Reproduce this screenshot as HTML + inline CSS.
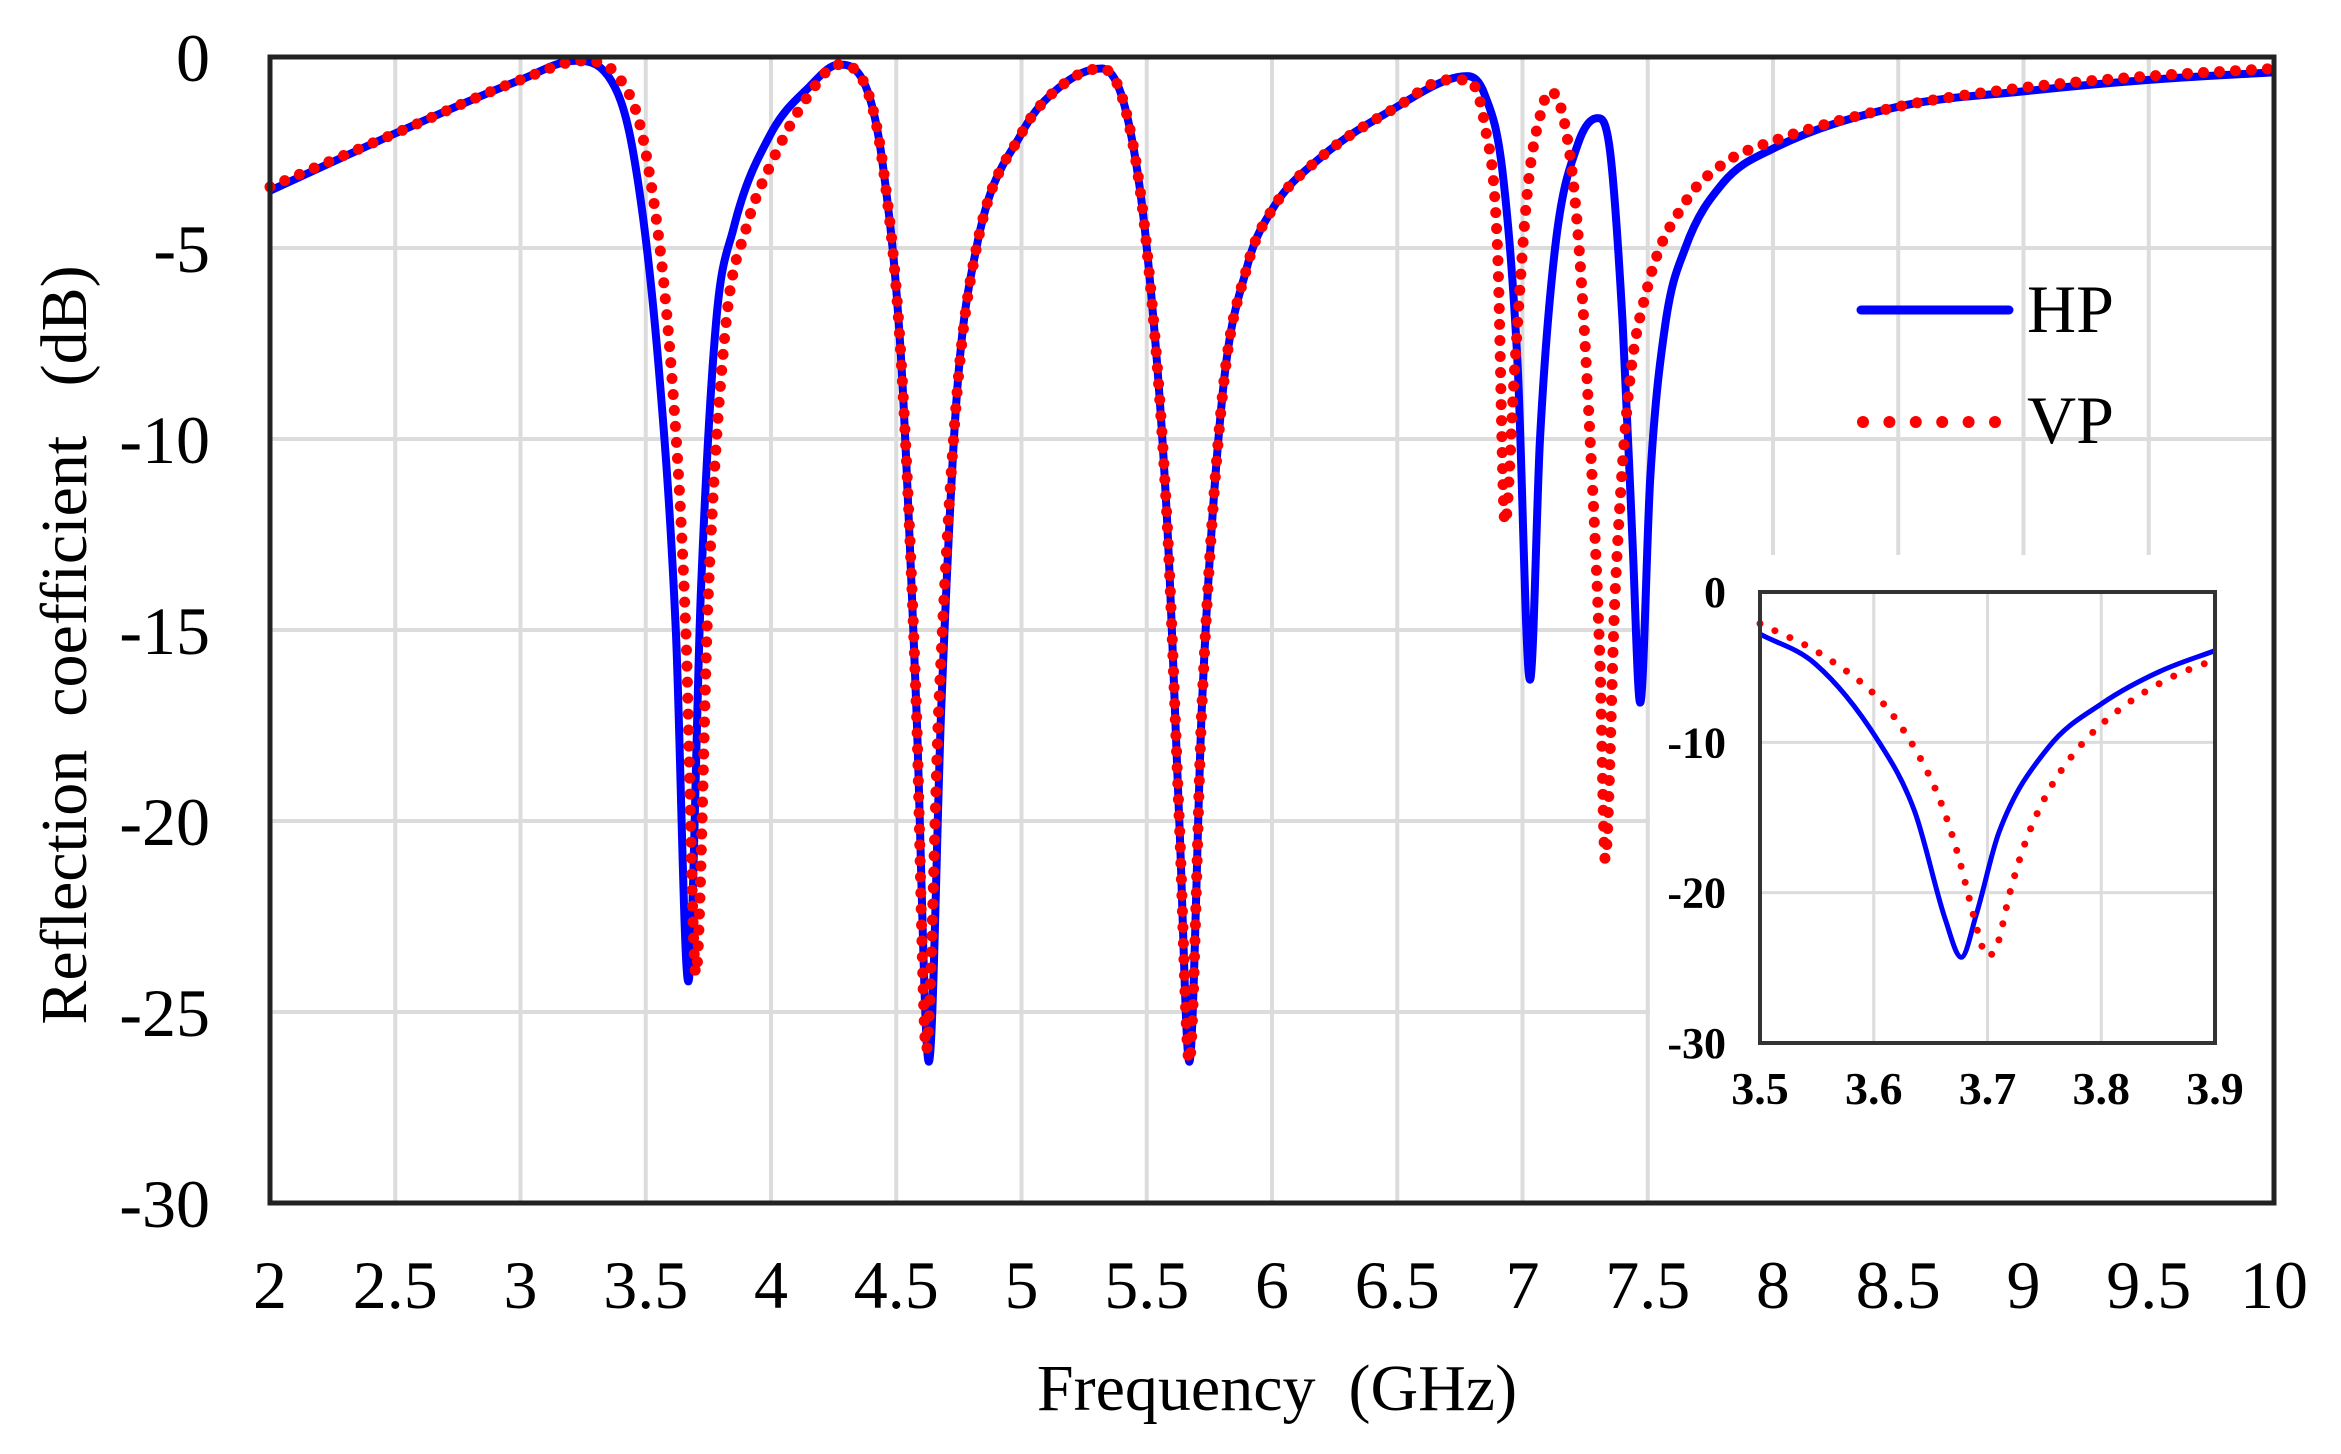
<!DOCTYPE html>
<html><head><meta charset="utf-8"><style>
html,body{margin:0;padding:0;background:#fff;}
svg{display:block;font-family:"Liberation Serif",serif;}
</style></head><body>
<svg id="chart" width="2341" height="1454" viewBox="0 0 2341 1454">
<g id="grid"></g>
<rect id="inset-bg" x="1650" y="555" width="622" height="646" fill="#fff"/>
<g id="series"></g>
<g id="axes"></g>
<g id="inset"></g>
<text x="1277" y="1410" font-size="66" text-anchor="middle" xml:space="preserve">Frequency  (GHz)</text>
<text transform="translate(86,645) rotate(-90)" font-size="66" text-anchor="middle" xml:space="preserve">Reflection  coefficient   (dB)</text>
<g>
<line x1="1861" y1="310" x2="2009" y2="310" stroke="#0000ff" stroke-width="9" stroke-linecap="round"/>
<text x="2027" y="332" font-size="68">HP</text>
<line x1="1863" y1="422" x2="1995" y2="422" stroke="#ff0000" stroke-width="12" stroke-linecap="round" stroke-dasharray="0 26.4"/>
<text x="2027" y="443" font-size="68">VP</text>
</g>
</svg>
<script>
const xTicks=[2,2.5,3,3.5,4,4.5,5,5.5,6,6.5,7,7.5,8,8.5,9,9.5,10];
const yTicks=[0,-5,-10,-15,-20,-25,-30];
const hpFreq=[2.0,2.5,3.0,3.22,3.35,3.45,3.55,3.62,3.67,3.72,3.78,3.85,4.0,4.15,4.27,4.38,4.45,4.52,4.58,4.63,4.68,4.74,4.82,5.0,5.15,5.32,5.42,5.5,5.58,5.63,5.67,5.72,5.8,5.9,6.0,6.2,6.5,6.7,6.78,6.85,6.92,6.98,7.03,7.07,7.13,7.22,7.30,7.35,7.40,7.44,7.47,7.51,7.57,7.65,7.8,8.0,8.5,9.0,9.5,10.0];
const hpDb=[-3.5,-2.0,-0.6,-0.1,-0.5,-2.5,-8,-15,-24.2,-14,-7,-4.5,-2,-0.8,-0.2,-0.8,-3,-8,-17,-26.3,-17,-9,-5,-2,-0.8,-0.3,-1.5,-5,-12,-20,-26.3,-17,-9,-5.5,-4,-2.6,-1.3,-0.6,-0.5,-1.0,-3,-8,-16.3,-10,-5,-2.3,-1.6,-2.5,-7,-12.8,-16.9,-11,-7,-5,-3.3,-2.4,-1.3,-0.9,-0.6,-0.4];
const vpFreq=[2.0,2.5,3.0,3.25,3.4,3.5,3.6,3.66,3.7,3.75,3.82,3.9,4.0,4.15,4.27,4.38,4.45,4.52,4.58,4.62,4.67,4.74,4.82,5.0,5.15,5.32,5.42,5.5,5.58,5.63,5.67,5.72,5.8,5.9,6.0,6.2,6.5,6.7,6.78,6.85,6.90,6.93,6.97,7.02,7.08,7.11,7.17,7.22,7.27,7.31,7.33,7.37,7.42,7.5,7.65,7.8,8.0,8.5,9.0,9.5,10.0];
const vpDb=[-3.4,-2.0,-0.6,-0.1,-0.6,-2.5,-8,-15,-24.0,-14,-7,-4.5,-2.8,-1.0,-0.2,-0.8,-3,-8,-17,-26.0,-17,-9,-5,-2,-0.8,-0.3,-1.5,-5,-12,-20,-26.3,-17,-9,-5.5,-4,-2.6,-1.3,-0.6,-0.6,-1.8,-5,-12.2,-8,-3.5,-1.3,-0.9,-1.8,-4.5,-10,-16,-21.0,-14,-9,-6,-3.8,-2.8,-2.2,-1.3,-0.8,-0.5,-0.3];
const inXTicks=[3.5,3.6,3.7,3.8,3.9];
const inYTicks=[0,-10,-20,-30];
const inHpFreq=[3.5,3.549,3.603,3.636,3.663,3.677,3.69,3.71,3.754,3.801,3.851,3.9];
const inHpDb=[-2.8,-4.8,-9.8,-14.6,-21.8,-24.3,-21.5,-16,-10.3,-7.4,-5.3,-3.9];
const inVpFreq=[3.5,3.555,3.608,3.636,3.658,3.673,3.681,3.693,3.699,3.708,3.72,3.734,3.754,3.782,3.818,3.861,3.9];
const inVpDb=[-2.1,-4.2,-7.4,-10.4,-13.8,-17.2,-19.5,-23,-24.2,-23.6,-19.9,-16.5,-13.2,-10.2,-7.7,-5.7,-4.5];

const NS="http://www.w3.org/2000/svg";
function mk(tag,attrs,parent){const e=document.createElementNS(NS,tag);for(const k in attrs)e.setAttribute(k,attrs[k]);parent.appendChild(e);return e;}
const L=270,R=2274,T=57,B=1203;
const xs=v=>L+(v-2)/8*(R-L);
const ys=v=>T+(0-v)/30*(B-T);
const grid=document.getElementById('grid'),axes=document.getElementById('axes'),ser=document.getElementById('series');
xTicks.forEach(t=>{
  const g=mk('line',{x1:xs(t),x2:xs(t),y1:T,y2:B,stroke:'#dcdcdc','stroke-width':4},grid);
  
  
  const tx=mk('text',{x:xs(t),y:1308,'font-size':68,'text-anchor':'middle'},axes);
  tx.textContent=String(t);
  
  
});
yTicks.forEach(t=>{
  const g=mk('line',{x1:L,x2:R,y1:ys(t),y2:ys(t),stroke:'#dcdcdc','stroke-width':4},grid);
  
  
  const tx=mk('text',{x:210,y:ys(t)+24,'font-size':68,'text-anchor':'end'},axes);
  tx.textContent=String(t);
  
  
});
const frame=mk('path',{d:`M${L},${T}V${B}H${R}V${T}Z`,fill:'none',stroke:'#222','stroke-width':5},axes);


function pathD(fx,fy,xf,yf){
  const X=fx.map(xf),Y=fy.map(yf),n=X.length;
  const d=[],m=new Array(n);
  for(let i=0;i<n-1;i++)d.push((Y[i+1]-Y[i])/(X[i+1]-X[i]));
  m[0]=d[0];m[n-1]=d[n-2];
  for(let i=1;i<n-1;i++){m[i]=(d[i-1]*d[i]<=0)?0:(d[i-1]+d[i])/2;}
  for(let i=0;i<n-1;i++){
    if(d[i]===0){m[i]=0;m[i+1]=0;continue;}
    const a=m[i]/d[i],b=m[i+1]/d[i],s=a*a+b*b;
    if(s>9){const t=3/Math.sqrt(s);m[i]=t*a*d[i];m[i+1]=t*b*d[i];}
  }
  let p='M'+X[0].toFixed(1)+','+Y[0].toFixed(1);
  for(let i=0;i<n-1;i++){
    const h=(X[i+1]-X[i])/3;
    p+='C'+(X[i]+h).toFixed(1)+','+(Y[i]+m[i]*h).toFixed(1)+' '+(X[i+1]-h).toFixed(1)+','+(Y[i+1]-m[i+1]*h).toFixed(1)+' '+X[i+1].toFixed(1)+','+Y[i+1].toFixed(1);
  }
  return p;
}
const hp=mk('path',{d:pathD(hpFreq,hpDb,xs,ys),fill:'none',stroke:'#0000ff','stroke-width':8,'stroke-linejoin':'round'},ser);


const vp=mk('path',{d:pathD(vpFreq,vpDb,xs,ys),fill:'none',stroke:'#ff0000','stroke-width':11,'stroke-linecap':'round','stroke-dasharray':'0 16'},ser);



const iL=1760,iR=2215,iT=592,iB=1043;
const ixs=v=>iL+(v-3.5)/0.4*(iR-iL);
const iys=v=>iT+(0-v)/30*(iB-iT);
const ins=document.getElementById('inset');
inXTicks.forEach(t=>{
  if(t>3.5&&t<3.9){const g=mk('line',{x1:ixs(t),x2:ixs(t),y1:iT,y2:iB,stroke:'#dcdcdc','stroke-width':3},ins);
  
  }
  const tx=mk('text',{x:ixs(t),y:1104,'font-size':46,'font-weight':'bold','text-anchor':'middle'},ins);
  tx.textContent=t.toFixed(1);
  
  
});
inYTicks.forEach(t=>{
  if(t<0&&t>-30){const g=mk('line',{x1:iL,x2:iR,y1:iys(t),y2:iys(t),stroke:'#dcdcdc','stroke-width':3},ins);
  
  }
  const tx=mk('text',{x:1726,y:iys(t)+15,'font-size':44,'font-weight':'bold','text-anchor':'end'},ins);
  tx.textContent=String(t);
  
  
});
const ihp=mk('path',{d:pathD(inHpFreq,inHpDb,ixs,iys),fill:'none',stroke:'#0000ff','stroke-width':5,'stroke-linejoin':'round'},ins);


const ivp=mk('path',{d:pathD(inVpFreq,inVpDb,ixs,iys),fill:'none',stroke:'#ff0000','stroke-width':7,'stroke-linecap':'round','stroke-dasharray':'0 16.5'},ins);


const ifr=mk('rect',{x:iL,y:iT,width:iR-iL,height:iB-iT,fill:'none',stroke:'#333','stroke-width':4},ins);


</script>
</body></html>
